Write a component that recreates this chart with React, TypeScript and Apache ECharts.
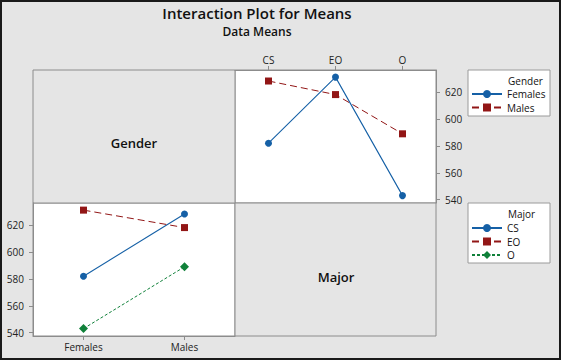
import React, { useEffect, useRef } from "react";
import * as echarts from "echarts";

const majors = ["CS", "EO", "O"];
const genders = ["Females", "Males"];
// means by gender (Females, Males) for each major
const csMeans = [582, 628.3];
const eoMeans = [631.2, 618.2];
const oMeans = [543, 589];
const yTicks = [540, 560, 580, 600, 620];
const yMin = 537.5;
const yMax = 636.5;

const FONT = "Open Sans";
const BLUE = "#1560a6";
const RED = "#921616";
const GREEN = "#10813a";
const GRID_LINE = "#8c8c8c";
const BG = "#e5e5e5";

export default function App() {
  const ref = useRef<HTMLDivElement>(null);
  useEffect(() => {
    document.body.style.margin = "0";
    const chart = echarts.init(ref.current!, null, { renderer: "svg" });
    const femalesMeans = [csMeans[0], eoMeans[0], oMeans[0]];
    const malesMeans = [csMeans[1], eoMeans[1], oMeans[1]];

    const axisLine = { show: true, lineStyle: { color: GRID_LINE, width: 1 } };
    const axisTick = { show: true, length: 4, lineStyle: { color: GRID_LINE } };
    const labelStyle = { color: "#222", fontSize: 10, fontFamily: FONT };

    const yAxisBase = (gridIndex: number, position: string) => ({
      type: "value",
      gridIndex,
      position,
      min: yMin,
      max: yMax,
      axisLine,
      axisTick: { ...axisTick, customValues: yTicks },
      axisLabel: { ...labelStyle, margin: 9, customValues: yTicks },
      splitLine: { show: false },
    });

    const option: any = {
      animation: false,
      backgroundColor: BG,
      grid: [
        { left: 235, top: 70, width: 201, height: 133, show: true, backgroundColor: "#fff", borderColor: GRID_LINE, borderWidth: 1 },
        { left: 33, top: 203, width: 202, height: 133, show: true, backgroundColor: "#fff", borderColor: GRID_LINE, borderWidth: 1 },
      ],
      xAxis: [
        {
          type: "category",
          gridIndex: 0,
          position: "top",
          data: majors,
          boundaryGap: true,
          axisLine,
          axisTick: { ...axisTick, alignWithLabel: true },
          axisLabel: { ...labelStyle, margin: 5 },
        },
        {
          type: "category",
          gridIndex: 1,
          position: "bottom",
          data: genders,
          boundaryGap: true,
          axisLine,
          axisTick: { ...axisTick, alignWithLabel: true },
          axisLabel: { ...labelStyle, margin: 6 },
        },
      ],
      yAxis: [yAxisBase(0, "right"), yAxisBase(1, "left")],
      legend: [
        {
          data: ["Females", "Males"],
          orient: "vertical",
          left: 471,
          top: 88,
          itemWidth: 30,
          itemHeight: 10,
          itemGap: 1.5,
          padding: 0,
          textStyle: { ...labelStyle, color: "#111", lineHeight: 12 },
        },
        {
          data: ["CS", "EO", "O"],
          orient: "vertical",
          left: 471,
          top: 222,
          itemWidth: 30,
          itemHeight: 10,
          itemGap: 1.5,
          padding: 0,
          textStyle: { ...labelStyle, color: "#111", lineHeight: 12 },
        },
      ],
      graphic: [
        { type: "rect", shape: { x: 33, y: 70, width: 202, height: 133 }, style: { fill: BG, stroke: GRID_LINE, lineWidth: 1 }, z: 0 },
        { type: "rect", shape: { x: 235, y: 203, width: 201, height: 133 }, style: { fill: BG, stroke: GRID_LINE, lineWidth: 1 }, z: 0 },
        { type: "rect", shape: { x: 468, y: 70, width: 82, height: 46 }, style: { fill: "#fff", stroke: "#9a9a9a", lineWidth: 1 }, z: 0 },
        { type: "rect", shape: { x: 468, y: 203, width: 82, height: 60 }, style: { fill: "#fff", stroke: "#9a9a9a", lineWidth: 1 }, z: 0 },
        { type: "text", x: 508, y: 81, style: { text: "Gender", fill: "#111", font: `10px '${FONT}'`, verticalAlign: "middle" }, z: 5 },
        { type: "text", x: 508, y: 214, style: { text: "Major", fill: "#111", font: `10px '${FONT}'`, verticalAlign: "middle" }, z: 5 },
        { type: "text", x: 134, y: 143, style: { text: "Gender", fill: "#111", font: `600 13px '${FONT}'`, align: "center", verticalAlign: "middle" }, z: 5 },
        { type: "text", x: 336, y: 276.5, style: { text: "Major", fill: "#111", font: `600 13px '${FONT}'`, align: "center", verticalAlign: "middle" }, z: 5 },
        { type: "text", x: 257, y: 13, style: { text: "Interaction Plot for Means", fill: "#111", font: `600 15px '${FONT}'`, align: "center", verticalAlign: "middle" }, z: 5 },
        { type: "text", x: 257, y: 31, style: { text: "Data Means", fill: "#111", font: `600 12px '${FONT}'`, align: "center", verticalAlign: "middle" }, z: 5 },
        { type: "rect", shape: { x: 1, y: 1, width: 559, height: 358 }, style: { fill: "none", stroke: "#1a1a1a", lineWidth: 2 }, z: 10, silent: true },
      ],
      series: [
        { name: "Females", type: "line", xAxisIndex: 0, yAxisIndex: 0, data: femalesMeans, symbol: "circle", symbolSize: 7, lineStyle: { color: BLUE, width: 1.1 }, itemStyle: { color: BLUE } },
        { name: "Males", type: "line", xAxisIndex: 0, yAxisIndex: 0, data: malesMeans, symbol: "rect", symbolSize: 7, lineStyle: { color: RED, width: 1, type: [7, 4] }, itemStyle: { color: RED } },
        { name: "CS", type: "line", xAxisIndex: 1, yAxisIndex: 1, data: csMeans, symbol: "circle", symbolSize: 7, lineStyle: { color: BLUE, width: 1.1 }, itemStyle: { color: BLUE } },
        { name: "EO", type: "line", xAxisIndex: 1, yAxisIndex: 1, data: eoMeans, symbol: "rect", symbolSize: 7, lineStyle: { color: RED, width: 1, type: [7, 4] }, itemStyle: { color: RED } },
        { name: "O", type: "line", xAxisIndex: 1, yAxisIndex: 1, data: oMeans, symbol: "diamond", symbolSize: 9, lineStyle: { color: GREEN, width: 1, type: [3, 2] }, itemStyle: { color: GREEN } },
      ],
    };
    chart.setOption(option);
    return () => chart.dispose();
  }, []);
  return <div ref={ref} style={{ position: "absolute", left: 0, top: 0, width: 561, height: 360 }} />;
}
